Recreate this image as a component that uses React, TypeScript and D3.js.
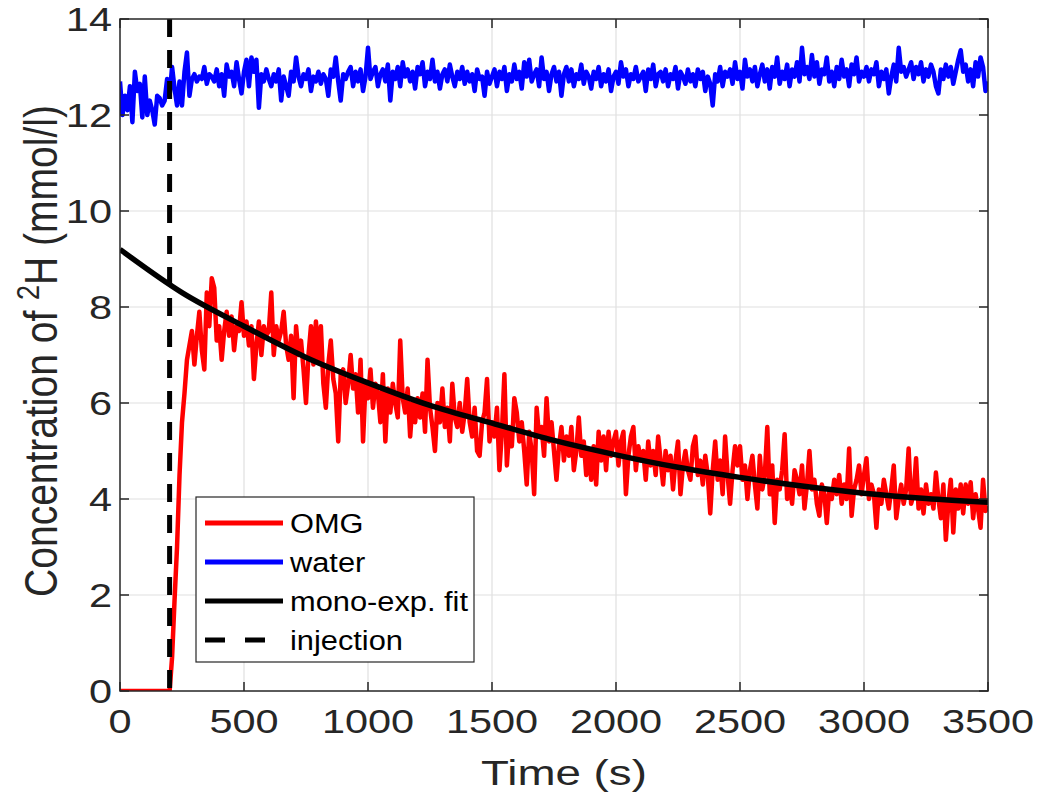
import React, { useEffect, useRef } from 'react';
import * as d3 from 'd3';

// sampling interval of the measured series (s)
const timeStep = 10;

// OMG concentration, one value every 10 s from t = 0
const omgValues = [
  0, 0, 0, 0, 0, 0, 0, 0, 0, 0,
  0, 0, 0, 0, 0, 0, 0, 0, 0, 0,
  0, 0.7, 1.9, 3.0, 4.5, 5.6, 6.2, 6.9, 7.2, 7.5,
  6.8, 7.4, 7.9, 7.1, 6.7, 8.3, 7.6, 8.6, 8.4, 7.3,
  7.6, 6.9, 7.5, 7.9, 7.4, 7.8, 7.1, 7.6, 7.5, 8.1,
  7.4, 7.7, 7.2, 7.6, 6.5, 7.2, 7.7, 7.0, 7.6, 7.4,
  7.5, 8.3, 7.0, 7.6, 7.3, 7.5, 7.9, 7.2, 6.9, 7.4,
  6.1, 7.6, 7.0, 7.3, 6.7, 6.0, 7.0, 7.6, 6.8, 7.7,
  6.9, 7.6, 6.4, 5.9, 6.8, 7.3, 6.5, 6.2, 5.2, 6.6,
  6.7, 6.0, 6.4, 7.0, 6.3, 6.6, 5.8, 6.9, 5.2, 6.4,
  6.1, 6.7, 5.9, 6.4, 6.2, 5.6, 6.6, 5.2, 6.3, 5.8,
  6.4, 6.0, 5.7, 7.3, 6.1, 5.8, 6.3, 5.3, 6.0, 5.6,
  6.1, 5.7, 6.2, 5.4, 6.9, 5.9, 5.5, 5.0, 6.0, 5.6,
  6.3, 5.5, 5.9, 5.2, 6.4, 5.7, 5.5, 6.0, 5.4, 5.8,
  6.5, 5.6, 5.3, 5.9, 5.0, 4.9, 5.6, 5.8, 6.5, 5.2,
  5.6, 5.3, 5.9, 4.6, 5.4, 6.6, 4.7, 5.5, 5.1, 6.1,
  5.8, 5.2, 5.6, 5.0, 4.3, 5.4, 5.0, 4.1, 5.9, 5.3,
  5.5, 4.9, 6.1, 5.2, 5.6, 5.0, 4.4, 5.1, 5.5, 4.8,
  5.3, 4.9, 5.5, 4.6, 5.0, 5.7, 4.9, 5.2, 4.5, 5.0,
  4.4, 5.1, 4.3, 5.4, 4.8, 5.3, 4.6, 5.4, 4.9, 5.2,
  5.4, 4.7, 5.2, 5.4, 4.1, 4.9, 5.3, 5.5, 4.6, 5.1,
  4.8, 5.0, 4.4, 5.2, 4.7, 5.0, 4.5, 5.3, 4.8, 4.3,
  5.0, 4.6, 4.9, 4.2, 4.8, 5.2, 4.1, 4.7, 5.0, 4.6,
  4.4, 5.1, 5.3, 4.5, 4.8, 4.3, 4.9, 4.5, 3.7, 4.6,
  5.2, 4.4, 4.8, 4.1, 5.3, 4.5, 3.9, 4.6, 5.1, 4.7,
  5.1, 4.4, 4.7, 4.0, 4.6, 4.9, 4.3, 3.8, 4.9, 4.2,
  4.5, 5.5, 4.1, 4.7, 3.5, 4.4, 4.2, 4.6, 5.35, 4.0,
  4.3, 3.9, 4.6, 4.4, 4.1, 4.7, 3.8, 4.3, 5.0, 4.2,
  4.4, 3.9, 3.65, 4.3, 4.1, 3.5, 4.2, 4.0, 4.4, 4.1,
  4.5, 3.9, 4.3, 4.0, 5.05, 3.65, 4.2, 4.4, 4.7, 4.1,
  4.5, 4.85, 4.0, 4.3, 4.1, 3.4, 4.2, 3.9, 4.4, 4.1,
  3.8, 4.2, 4.7, 3.6, 4.0, 4.3, 3.9, 4.2, 5.05, 3.9,
  4.1, 4.85, 3.8, 4.2, 3.7, 4.3, 3.9, 4.1, 3.8, 4.55,
  4.0, 3.6, 4.3, 3.15, 3.9, 4.4, 3.3, 4.2, 3.8, 4.3,
  3.7, 4.3, 3.9, 4.35, 3.6, 4.1, 3.8, 3.4, 4.4, 3.75,
  3.85,
];

// water concentration, one value every 10 s from t = 0
const waterValues = [
  12.7, 12.0, 12.4, 12.1, 12.6, 11.85, 12.9, 12.5, 12.65, 11.95,
  12.8, 12.0, 12.3, 12.1, 11.8, 12.4, 12.35, 12.2, 12.3, 12.75,
  12.4, 13.0, 12.55, 12.2, 12.7, 12.2, 12.9, 13.3, 12.4, 12.75,
  12.85, 12.7, 12.8, 12.75, 13.0, 12.65, 12.85, 12.8, 12.7, 12.95,
  12.6, 12.85, 12.4, 13.05, 12.8, 12.9, 12.6, 13.1, 12.75, 12.45,
  12.9, 13.15, 12.6, 13.2, 12.9, 13.15, 12.15, 12.85, 12.7, 12.95,
  12.75, 12.6, 12.85, 12.7, 12.95, 12.3, 12.8, 12.6, 12.4, 12.9,
  12.7, 13.2, 12.8, 12.6, 12.85, 12.75, 12.95, 12.5, 12.8, 12.7,
  12.9, 12.65, 12.85, 12.75, 12.4, 12.95, 12.8, 13.2, 12.7, 12.3,
  12.85, 12.75, 12.9, 13.0, 12.6, 12.9, 12.7, 12.95, 12.5, 12.8,
  13.4, 12.75, 12.9, 13.0, 12.6, 12.85, 12.95, 12.7, 13.05, 12.3,
  12.9, 12.75, 13.0, 12.6, 13.1, 12.8, 12.95, 12.7, 12.9, 12.55,
  13.0, 12.85, 13.1, 12.6, 12.9, 12.75, 13.15, 12.7, 12.9, 12.55,
  12.85, 12.95, 12.7, 13.05, 12.8, 12.6, 12.9, 12.75, 13.0, 12.65,
  12.9, 12.7, 12.85, 12.5, 12.95, 12.75, 12.8, 12.4, 12.9, 12.65,
  12.8, 12.95, 12.6, 12.9, 12.75, 13.0, 12.5, 12.85, 12.7, 13.05,
  12.75, 12.9, 12.55, 13.1, 12.8, 13.15, 12.7, 12.85, 12.95, 12.6,
  13.2, 12.75, 12.9, 12.5, 12.85, 13.0, 12.7, 12.9, 12.4, 12.85,
  13.0, 12.7, 12.95, 12.6, 12.85, 12.75, 13.05, 12.65, 12.9, 12.8,
  12.55, 12.9, 12.75, 13.0, 12.6, 12.85, 12.7, 12.95, 12.5, 12.8,
  12.9, 12.65, 13.1, 12.8, 12.95, 12.6, 12.85, 12.75, 13.0, 12.7,
  12.8, 12.9, 12.5, 12.95, 12.75, 13.05, 12.6, 12.85, 12.9, 12.7,
  12.95, 12.6, 12.85, 12.75, 13.0, 12.55, 12.9, 12.8, 12.65, 12.95,
  12.7, 12.85, 12.6, 12.95, 12.75, 12.9, 12.5, 12.8, 12.65, 12.2,
  12.85, 12.7, 13.0, 12.6, 12.9, 12.8, 12.95, 12.65, 13.1, 12.75,
  12.9, 12.55, 13.15, 12.8, 12.95, 12.7, 13.0, 12.6, 12.85, 13.05,
  12.7, 12.95, 12.55, 13.0, 12.8, 13.2, 12.65, 12.9, 12.75, 13.05,
  12.6, 12.95, 12.8, 13.1, 12.7, 13.4, 12.85, 13.0, 12.75, 13.25,
  12.8, 13.1, 12.65, 12.95, 12.85, 13.2, 12.7, 12.9, 12.6, 13.0,
  12.75, 13.15, 12.8, 12.95, 12.6, 13.05, 12.85, 13.2, 12.7, 12.9,
  12.8, 13.0, 12.7, 12.95, 12.85, 13.1, 12.6, 12.9, 12.75, 12.95,
  12.45, 12.8, 13.05, 12.7, 13.4, 12.9, 13.0, 12.8, 12.95, 13.1,
  12.75, 13.0, 12.85, 13.1, 12.7, 12.95, 12.8, 13.05, 12.9, 12.6,
  12.45, 12.95, 12.75, 13.05, 12.8, 13.0, 12.65, 12.9, 13.15, 13.35,
  12.9, 13.05, 12.7, 12.95, 12.6, 13.1, 12.8, 13.2, 13.0, 12.5,
  12.7,
];

// mono-exponential fit
const fitTimes = [0, 250, 500, 750, 1000, 1250, 1500, 1750, 2000, 2250, 2500, 2750, 3000, 3250, 3500];
const fitValues = [9.2, 8.3, 7.6, 6.95, 6.42, 5.95, 5.58, 5.22, 4.92, 4.66, 4.45, 4.27, 4.12, 4.01, 3.93];

const injectionTime = 200;

const xTicks = [0, 500, 1000, 1500, 2000, 2500, 3000, 3500];
const yTicks = [0, 2, 4, 6, 8, 10, 12, 14];

const legendItems = [
  { label: 'OMG', color: '#ff0000', dash: null },
  { label: 'water', color: '#0000ff', dash: null },
  { label: 'mono-exp. fit', color: '#000000', dash: null },
  { label: 'injection', color: '#000000', dash: '20,20' },
];

const FONT = '"Liberation Sans", Arial, Helvetica, sans-serif';

const App = () => {
  const chartRef = useRef(null);

  useEffect(() => {
    const root = d3.select(chartRef.current);
    root.selectAll('*').remove();

    const width = 1045;
    const height = 797;
    const marginTop = 19;
    const marginRight = 57;
    const marginBottom = 106;
    const marginLeft = 120;
    const sx = 1.22; // the source figure is stretched horizontally

    const x = d3.scaleLinear().domain([0, 3500]).range([marginLeft, width - marginRight]);
    const y = d3.scaleLinear().domain([0, 14]).range([height - marginBottom, marginTop]);

    const svg = root.append('svg')
      .attr('width', width)
      .attr('height', height)
      .attr('viewBox', [0, 0, width, height])
      .style('position', 'absolute')
      .style('left', 0)
      .style('top', 0)
      .style('background', '#fff');

    svg.append('defs').append('clipPath').attr('id', 'plot-clip')
      .append('rect')
      .attr('x', marginLeft).attr('y', marginTop)
      .attr('width', x(3500) - marginLeft).attr('height', y(0) - marginTop);

    // grid
    const grid = svg.append('g').attr('stroke', '#dfdfdf').attr('stroke-width', 1.2);
    grid.selectAll('.gx').data(xTicks.slice(1, -1)).join('line')
      .attr('x1', d => x(d)).attr('x2', d => x(d))
      .attr('y1', y(0)).attr('y2', y(14));
    grid.selectAll('.gy').data(yTicks.slice(1, -1)).join('line')
      .attr('x1', x(0)).attr('x2', x(3500))
      .attr('y1', d => y(d)).attr('y2', d => y(d));

    const plot = svg.append('g').attr('clip-path', 'url(#plot-clip)');

    const line = d3.line<number>()
      .x((d, i) => x(i * timeStep))
      .y(d => y(d));

    plot.append('path')
      .datum(waterValues)
      .attr('fill', 'none')
      .attr('stroke', '#0000ff')
      .attr('stroke-width', 4.5)
      .attr('stroke-linejoin', 'round')
      .attr('d', line);

    plot.append('path')
      .datum(omgValues)
      .attr('fill', 'none')
      .attr('stroke', '#ff0000')
      .attr('stroke-width', 4.5)
      .attr('stroke-linejoin', 'round')
      .attr('d', line);

    const fitLine = d3.line<number>()
      .x((d, i) => x(fitTimes[i]))
      .y(d => y(d))
      .curve(d3.curveMonotoneX);

    plot.append('path')
      .datum(fitValues)
      .attr('fill', 'none')
      .attr('stroke', '#000')
      .attr('stroke-width', 5.5)
      .attr('d', fitLine);

    plot.append('line')
      .attr('x1', x(injectionTime)).attr('x2', x(injectionTime))
      .attr('y1', y(14)).attr('y2', y(0))
      .attr('stroke', '#000')
      .attr('stroke-width', 5)
      .attr('stroke-dasharray', '18,13');

    // axes box
    const axisColor = '#262626';
    svg.append('rect')
      .attr('x', marginLeft).attr('y', marginTop)
      .attr('width', x(3500) - marginLeft).attr('height', y(0) - marginTop)
      .attr('fill', 'none')
      .attr('stroke', axisColor)
      .attr('stroke-width', 1.5);

    const tickLen = 9;
    const ticks = svg.append('g').attr('stroke', axisColor).attr('stroke-width', 1.5);
    xTicks.forEach(t => {
      ticks.append('line').attr('x1', x(t)).attr('x2', x(t)).attr('y1', y(0)).attr('y2', y(0) - tickLen);
      ticks.append('line').attr('x1', x(t)).attr('x2', x(t)).attr('y1', y(14)).attr('y2', y(14) + tickLen);
    });
    yTicks.forEach(t => {
      ticks.append('line').attr('x1', x(0)).attr('x2', x(0) + tickLen).attr('y1', y(t)).attr('y2', y(t));
      ticks.append('line').attr('x1', x(3500)).attr('x2', x(3500) - tickLen).attr('y1', y(t)).attr('y2', y(t));
    });

    const labels = svg.append('g')
      .attr('font-family', FONT)
      .attr('fill', axisColor);

    labels.selectAll('.xl').data(xTicks).join('text')
      .attr('transform', d => `translate(${x(d)},${y(0) + 42}) scale(${sx},1)`)
      .attr('text-anchor', 'middle')
      .attr('font-size', 34)
      .text(d => d);

    labels.selectAll('.yl').data(yTicks).join('text')
      .attr('transform', d => `translate(${x(0) - 8},${y(d) + 12}) scale(${sx},1)`)
      .attr('text-anchor', 'end')
      .attr('font-size', 34)
      .text(d => d);

    labels.append('text')
      .attr('transform', `translate(${(x(0) + x(3500)) / 2 + 10},${height - 12}) scale(${sx + 0.05},1)`)
      .attr('text-anchor', 'middle')
      .attr('font-size', 36)
      .text('Time (s)');

    const yl = labels.append('text')
      .attr('transform', `translate(57,${(y(0) + y(14)) / 2 - 4}) scale(1.17,1) rotate(-90)`)
      .attr('text-anchor', 'middle')
      .attr('font-size', 39);
    yl.append('tspan').text('Concentration of ');
    yl.append('tspan').attr('font-size', 27).attr('dy', -15).text('2');
    yl.append('tspan').attr('dy', 15).text('H (mmol/l)');

    // legend
    const lg = svg.append('g').attr('transform', 'translate(196,497)');
    lg.append('rect')
      .attr('width', 278).attr('height', 165)
      .attr('fill', '#fff')
      .attr('stroke', axisColor)
      .attr('stroke-width', 1.2);
    legendItems.forEach((item, i) => {
      const cy = 26 + i * 39;
      lg.append('line')
        .attr('x1', 9).attr('x2', 87)
        .attr('y1', cy).attr('y2', cy)
        .attr('stroke', item.color)
        .attr('stroke-width', 5)
        .attr('stroke-dasharray', item.dash);
      lg.append('text')
        .attr('transform', `translate(94,${cy + 10}) scale(1.1,1)`)
        .attr('font-family', FONT)
        .attr('font-size', 28)
        .attr('fill', '#000')
        .text(item.label);
    });
  }, []);

  return <div ref={chartRef}></div>;
};

export default App;
